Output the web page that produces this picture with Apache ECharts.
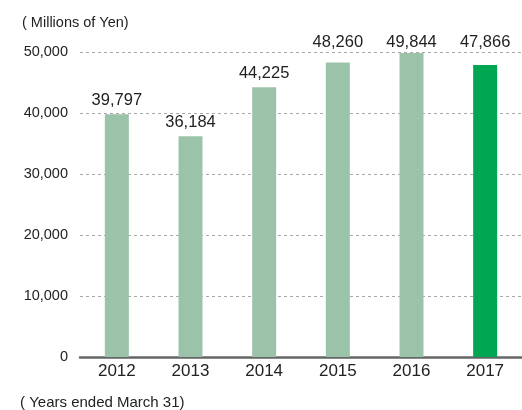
<!DOCTYPE html>
<html>
<head>
<meta charset="utf-8">
<script src="https://cdn.jsdelivr.net/npm/echarts@6/dist/echarts.min.js"></script>
<style>
  html, body { margin: 0; padding: 0; background: #fff; }
  #chart { width: 522px; height: 410px; }
</style>
</head>
<body>
<div id="chart"></div>
<script>
// Net sales by fiscal year
const years = ['2012', '2013', '2014', '2015', '2016', '2017'];
const sales = [39797, 36184, 44225, 48260, 49844, 47866];
const yTicks = [0, 10000, 20000, 30000, 40000, 50000];

const pastColor = '#9bc3a9';
const latestColor = '#00a651';
const font = '"Liberation Sans", Arial, sans-serif';
const fmt = v => v.toLocaleString('en-US');

// Value labels of the tallest bars sit on one shared row above the plot
const labelRowY = 42;
const labelRowFrom = 47000;

const chart = echarts.init(document.getElementById('chart'));

const baseOption = {
  animation: false,
  grid: { left: 80, right: 0, top: 52, bottom: 53 },
  graphic: [
    { type: 'text', left: 22, top: 15,
      style: { text: '( Millions of Yen)', font: '14.5px ' + font, fill: '#222' } },
    { type: 'text', left: 20, top: 395,
      style: { text: '( Years ended March 31)', font: '15px ' + font, fill: '#222' } }
  ],
  xAxis: {
    type: 'category',
    data: years,
    axisTick: { show: false },
    axisLine: { lineStyle: { color: '#666', width: 2.5 } },
    axisLabel: { fontFamily: font, fontSize: 17, color: '#222', margin: 6 }
  },
  yAxis: {
    type: 'value',
    min: yTicks[0],
    max: yTicks[yTicks.length - 1],
    interval: 10000,
    axisLine: { show: false },
    axisTick: { show: false },
    axisLabel: {
      fontFamily: font, fontSize: 14.5, color: '#222', margin: 12,
      padding: [6, 0, 0, 0],
      formatter: fmt
    },
    splitLine: { lineStyle: { color: '#a8a8a8', type: [3, 3], width: 1 } }
  },
  series: [{
    type: 'bar',
    barWidth: 24,
    data: sales.map((v, i) => ({
      value: v,
      itemStyle: { color: i === sales.length - 1 ? latestColor : pastColor }
    })),
    label: {
      show: true,
      position: 'top',
      distance: 5,
      fontFamily: font,
      fontSize: 16.5,
      color: '#222',
      formatter: p => fmt(p.value)
    }
  }]
};
chart.setOption(baseOption);

// Pin the labels of the tallest bars to the shared row, using the axis scale
const barW = 24;
const data = sales.map((v, i) => {
  const item = {
    value: v,
    itemStyle: { color: i === sales.length - 1 ? latestColor : pastColor }
  };
  if (v >= labelRowFrom) {
    const topY = chart.convertToPixel({ seriesIndex: 0 }, [i, v])[1];
    item.label = {
      position: [barW / 2, labelRowY - topY],
      align: 'center',
      verticalAlign: 'middle'
    };
  }
  return item;
});
chart.setOption({ series: [{ data: data }] });
</script>
</body>
</html>
